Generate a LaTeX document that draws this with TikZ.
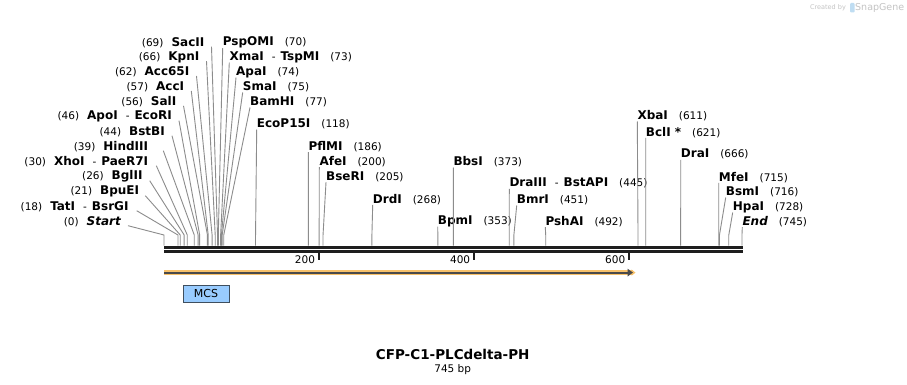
\documentclass[tikz,border=0pt]{standalone}
\usepackage{fontspec}
\setmainfont{DejaVu Sans}
\usetikzlibrary{arrows.meta,positioning}
\definecolor{cutgray}{HTML}{8C8C8C}
\definecolor{barblack}{HTML}{1E1E1E}
\definecolor{featorange}{HTML}{F7C16A}
\definecolor{featcore}{HTML}{4A4A4A}
\definecolor{mcsblue}{HTML}{99CCFF}
\definecolor{mcsedge}{HTML}{3F4F5F}
\definecolor{logogray}{HTML}{C4C4C4}
\definecolor{logoblue}{HTML}{BFDDF2}
\newcommand{\enz}[1]{{\fontsize{12}{14}\selectfont\bfseries #1}}
\newcommand{\enzit}[1]{{\fontsize{12}{14}\selectfont\bfseries\itshape #1}}
\newcommand{\gapl}{\hspace{8pt}}
\newcommand{\gapr}{\hspace{11pt}}
\newcommand{\orsep}{\hspace{8pt}-\hspace{5pt}}
\tikzset{every enzyme/.style={inner sep=0pt, font=\fontsize{10.5}{12}\selectfont},
        enzyme left/.style={every enzyme, anchor=east},
        enzyme right/.style={every enzyme, anchor=west},
        cutline/.style={draw=cutgray, line width=0.9pt},
        seq top/.style={draw=barblack, line width=3pt},
        seq bottom/.style={draw=barblack, line width=2.6pt},
        ruler tick/.style={draw=barblack, line width=2pt},
        ruler label/.style={inner sep=0pt, anchor=east, font=\fontsize{10.5}{12}\selectfont},
        feature glow/.style={draw=featorange, fill=featorange, line width=5.5pt,
                             -{Triangle[length=4pt,width=6pt]}},
        feature core/.style={draw=featcore, line width=1.8pt, shorten >=2.5pt,
                             -{Triangle[length=5.5pt,width=7.5pt]}},
        mcsbox/.style={draw=mcsedge, fill=mcsblue, line width=0.8pt, minimum width=46pt,
                       minimum height=17pt, inner sep=0pt, font=\fontsize{11}{12}\selectfont},
        map title/.style={inner sep=0pt, font=\fontsize{13.5}{16}\selectfont\bfseries},
        map length/.style={inner sep=0pt, font=\fontsize{10.5}{12}\selectfont},
        logo/.style={inner sep=0pt, text=logogray},
        }

\begin{document}
\begin{tikzpicture}[x=1pt,y=-1pt]
    \fill[white] (0,0) rectangle (907,385);
    \useasboundingbox (0,0) rectangle (907,385);

    % sequence
    \coordinate (b0) at (164,247.2);
    \coordinate (b1) at (742.5,247.2);
    \coordinate (c0) at (164,251.3);
    \coordinate (c1) at (742.5,251.3);
    \draw[seq top] (b0) -- (b1);
    \draw[seq bottom] (c0) -- (c1);

    % ruler
    \foreach \t in {200,400,600} {
        \coordinate (t\t) at ({164+0.7758*\t},252.7);
        \draw[ruler tick] (t\t) -- ++(0,7);
        \node[ruler label] (tl\t) at ([shift={(-4,6.5)}]t\t) {\t};
    }

    % sites, labels on the left
    \foreach \p/\y/\x/\g/\t [count=\k] in {
        69/42.7/204.5/7/{(69)\gapl\enz{SacII}},
        66/57.2/199.5/7/{(66)\gapl\enz{KpnI}},
        62/72/189.5/7/{(62)\gapl\enz{Acc65I}},
        57/87/184.3/7/{(57)\gapl\enz{AccI}},
        56/101.8/176.5/7/{(56)\gapl\enz{SalI}},
        46/116.7/172/7/{(46)\gapl\enz{ApoI}\orsep\enz{EcoRI}},
        44/131.7/165/7/{(44)\gapl\enz{BstBI}},
        39/146.7/148.3/15/{(39)\gapl\enz{HindIII}},
        30/161.7/148.3/8/{(30)\gapl\enz{XhoI}\orsep\enz{PaeR7I}},
        26/176.7/142.7/7/{(26)\gapl\enz{BglII}},
        21/191.7/139.3/6/{(21)\gapl\enz{BpuEI}},
        18/206.7/128.7/8/{(18)\gapl\enz{TatI}\orsep\enz{BsrGI}},
        0/221.7/121/7/{(0)\gapl\enzit{Start}}} {
        \node[enzyme left] (L\k) at (\x,\y) {\t};
        \coordinate (Lc\k) at ({164+0.7758*\p},245.7);
        \draw[cutline] ([shift={(\g,4)}]L\k.east) -- ([yshift=10.7pt]Lc\k) -- (Lc\k);
    }

    % sites, labels on the right
    \foreach \p/\y/\x/\t [count=\k] in {
        70/42.7/222.7/{\enz{PspOMI}\gapr(70)},
        73/57.2/229.3/{\enz{XmaI}\orsep\enz{TspMI}\gapr(73)},
        74/72/236/{\enz{ApaI}\gapr(74)},
        75/87/242.7/{\enz{SmaI}\gapr(75)},
        77/102/250/{\enz{BamHI}\gapr(77)},
        118/124/256.7/{\enz{EcoP15I}\gapr(118)},
        186/146.7/308.3/{\enz{PflMI}\gapr(186)},
        200/161.7/319.3/{\enz{AfeI}\gapr(200)},
        205/176.7/326/{\enz{BseRI}\gapr(205)},
        268/199.3/372.7/{\enz{DrdI}\gapr(268)},
        353/221.2/437.7/{\enz{BpmI}\gapr(353)},
        373/162/453.3/{\enz{BbsI}\gapr(373)},
        445/183.3/509.3/{\enz{DraIII}\orsep\enz{BstAPI}\gapr(445)},
        451/200/516.7/{\enz{BmrI}\gapr(451)},
        492/221.7/545.3/{\enz{PshAI}\gapr(492)},
        611/116/637.3/{\enz{XbaI}\gapr(611)},
        621/132.3/645.7/{\enz{BclI *}\gapr(621)},
        666/154.3/680.7/{\enz{DraI}\gapr(666)},
        715/177.3/718.7/{\enz{MfeI}\gapr(715)},
        716/192/725.7/{\enz{BsmI}\gapr(716)},
        728/207/732.7/{\enz{HpaI}\gapr(728)},
        745/221.7/742.3/{\enzit{End}\gapr(745)}} {
        \node[enzyme right] (R\k) at (\x,\y) {\t};
        \coordinate (Rc\k) at ({164+0.7758*\p},245.7);
        \draw[cutline] ([shift={(0,5.5)}]R\k.west) -- ([yshift=10.7pt]Rc\k) -- (Rc\k);
    }

    % feature and MCS
    \coordinate (fa) at (164,272.6);
    \coordinate (fb) at (635.5,272.6);
    \draw[feature glow] (fa) -- (fb);
    \draw[feature core] (fa) -- (fb);
    \node[mcsbox] (mcs) at (206,293.5) {MCS};

    % title
    \node[map title] (title) at (452.7,354) {CFP-C1-PLCdelta-PH};
    \node[map length, below=5pt of title] (len) {745 bp};

    % watermark
    \node[logo, font=\fontsize{6.5}{8}\selectfont] (created) at (828,7.5) {Created by};
    \fill[logoblue, rounded corners=1pt] (850,3) rectangle (854.5,12.5);
    \node[logo, font=\fontsize{9.5}{11}\selectfont, anchor=west] (snapgene) at (855,7.5) {SnapGene};
\end{tikzpicture}
\end{document}
